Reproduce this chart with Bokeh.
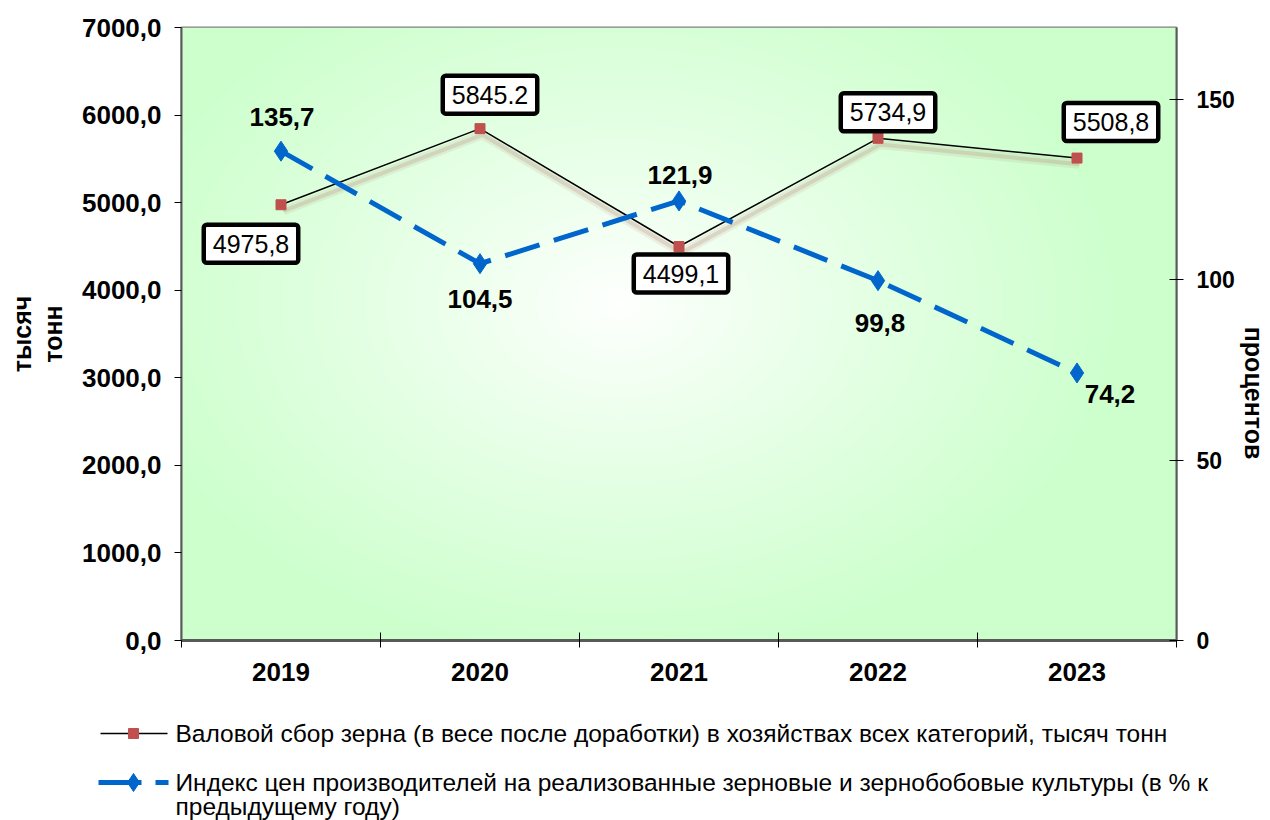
import numpy as np
from bokeh.plotting import figure
from bokeh.models import Range1d, LinearAxis, FixedTicker, Label
from bokeh.layouts import column
from bokeh.embed import file_html
from bokeh.resources import INLINE
from bokeh.core.properties import value

# ---------------- data ----------------
years = ["2019", "2020", "2021", "2022", "2023"]
harvest = [4975.8, 5845.2, 4499.1, 5734.9, 5508.8]
harvest_labels = ["4975,8", "5845.2", "4499,1", "5734,9", "5508,8"]
price_index = [135.7, 104.5, 121.9, 99.8, 74.2]
price_labels = ["135,7", "104,5", "121,9", "99,8", "74,2"]
left_ticks = [0, 1000, 2000, 3000, 4000, 5000, 6000, 7000]
left_tick_labels = ["0,0", "1000,0", "2000,0", "3000,0", "4000,0", "5000,0", "6000,0", "7000,0"]
right_ticks = [0, 50, 100, 150]
right_tick_labels = ["0", "50", "100", "150"]
left_title = "тысяч\nтонн"
right_title = "процентов"
series_names = [
    "Валовой сбор зерна (в весе после доработки) в хозяйствах всех категорий, тысяч тонн",
    "Индекс цен производителей на реализованные зерновые и зернобобовые культуры (в % к",
    "предыдущему году)",
]

# ---------------- styling ----------------
FONT = "Liberation Sans"
RED = "#C0504D"
BLUE = "#0066CC"
harvest_offsets = [(-30, -39), (10, 34), (2, -27), (10, 26), (34, 36)]
price_offsets = [(1, 34), (0, -35), (1, 26), (2, -42), (33, -21)]

xpos = list(range(1, len(years) + 1))

p = figure(width=1270, height=700, x_range=Range1d(0.5, len(years) + 0.5),
           y_range=Range1d(0, 7000), output_backend="svg", toolbar_location=None,
           min_border_left=181, min_border_right=92, min_border_top=27, min_border_bottom=60)
p.extra_y_ranges = {"pct": Range1d(0, 170)}
p.background_fill_color = "white"
p.border_fill_color = "white"
p.outline_line_color = "#808080"
p.outline_line_width = 2
p.xgrid.grid_line_color = None
p.ygrid.grid_line_color = None

# gradient background (radial white centre -> light green edges)
nx, ny = 400, 250
gx, gy = np.meshgrid(np.linspace(0, 1, nx), np.linspace(0, 1, ny))
d = np.sqrt(((gx - 0.44) / 0.52) ** 2 + ((gy - 0.55) / 0.6) ** 2)
t = np.clip(d, 0, 1) ** 0.9
img = np.empty((ny, nx), dtype=np.uint32)
view = img.view(dtype=np.uint8).reshape((ny, nx, 4))
view[:, :, 0] = (255 - 51 * t).astype(np.uint8)
view[:, :, 1] = 255
view[:, :, 2] = (255 - 51 * t).astype(np.uint8)
view[:, :, 3] = 255
p.image_rgba(image=[img], x=0.5, y=0, dw=len(years), dh=7000, level="image")

# red series shadow
shadow_x = [x + 0.012 for x in xpos]
shadow_y = [v - 70 for v in harvest]
p.line(shadow_x, shadow_y, line_color="#b07a68", line_width=9, line_alpha=0.12)
p.line(shadow_x, shadow_y, line_color="#b07a68", line_width=4, line_alpha=0.22)
# red series
p.line(xpos, harvest, line_color="black", line_width=1.5)
p.scatter(xpos, harvest, marker="square", size=10, fill_color=RED, line_color=RED)

# blue series
p.line(xpos, price_index, y_range_name="pct", line_color=BLUE, line_width=5,
       line_dash="36 15")
p.scatter(xpos, price_index, y_range_name="pct", marker="diamond", size=20,
          fill_color=BLUE, line_color=BLUE)

# data labels
for xv, yv, txt, (ox, oy) in zip(xpos, harvest, harvest_labels, harvest_offsets):
    p.add_layout(Label(x=xv, y=yv, text=txt, x_offset=ox, y_offset=oy,
                       text_font=FONT, text_font_size="25px", text_align="center",
                       text_baseline="middle", text_color="black",
                       background_fill_color="white", border_line_color="black",
                       border_line_width=4.5, padding=(9, 10), border_radius=3))
for xv, yv, txt, (ox, oy) in zip(xpos, price_index, price_labels, price_offsets):
    p.add_layout(Label(x=xv, y=yv, y_range_name="pct", text=txt, x_offset=ox, y_offset=oy,
                       text_font=FONT, text_font_size="26px", text_font_style="bold",
                       text_align="center", text_baseline="middle", text_color="black"))

# axes
AX_COLOR = "#595959"
xa = p.xaxis[0]
xa.ticker = FixedTicker(ticks=xpos, minor_ticks=[x - 0.5 for x in xpos] + [xpos[-1] + 0.5])
xa.major_label_overrides = {x: y for x, y in zip(xpos, years)}
xa.major_tick_in = 0
xa.major_tick_out = 0
xa.minor_tick_in = 8
xa.minor_tick_out = 7
xa.minor_tick_line_color = "black"
xa.axis_line_color = AX_COLOR
xa.axis_line_width = 3
xa.major_label_standoff = 15
xa.major_label_text_font = FONT
xa.major_label_text_font_size = "26px"
xa.major_label_text_font_style = "bold"
xa.major_label_text_color = "black"

ya = p.yaxis[0]
ya.ticker = FixedTicker(ticks=left_ticks)
ya.major_label_overrides = {k: v for k, v in zip(left_ticks, left_tick_labels)}
ya.minor_tick_line_color = None
ya.major_tick_in = 0
ya.major_tick_out = 7
ya.major_tick_line_color = "black"
ya.axis_line_color = AX_COLOR
ya.axis_line_width = 2
ya.major_label_standoff = 13
ya.major_label_text_font = FONT
ya.major_label_text_font_size = "26px"
ya.major_label_text_font_style = "bold"
ya.major_label_text_color = "black"
ya.axis_label = left_title
ya.axis_label_text_font = FONT
ya.axis_label_text_font_size = "25px"
ya.axis_label_text_font_style = "bold"
ya.axis_label_text_color = "black"
ya.axis_label_text_line_height = 1.1
ya.axis_label_standoff = 12

ra = LinearAxis(y_range_name="pct", ticker=FixedTicker(ticks=right_ticks))
ra.major_label_overrides = {k: v for k, v in zip(right_ticks, right_tick_labels)}
ra.minor_tick_line_color = None
ra.major_tick_in = 7
ra.major_tick_out = 7
ra.major_tick_line_color = "black"
ra.axis_line_color = AX_COLOR
ra.axis_line_width = 2
ra.major_label_standoff = 13
ra.major_label_text_font = FONT
ra.major_label_text_font_size = "23px"
ra.major_label_text_font_style = "bold"
ra.major_label_text_color = "black"
ra.axis_label = "\u00a0" * 17 + right_title
ra.axis_label_text_font = FONT
ra.axis_label_text_font_size = "25px"
ra.axis_label_text_font_style = "bold"
ra.axis_label_text_color = "black"
ra.axis_label_standoff = 2
p.add_layout(ra, "right")

# ---------------- legend figure (pixel coordinates) ----------------
lg = figure(width=1270, height=120, x_range=Range1d(0, 1270), y_range=Range1d(120, 0),
            output_backend="svg", toolbar_location=None, x_axis_type=None,
            y_axis_type=None, min_border=0)
try:
    lg.frame_align = False
    p.frame_align = False
except Exception:
    pass
lg.outline_line_color = None
lg.xgrid.grid_line_color = None
lg.ygrid.grid_line_color = None
lg.background_fill_color = "white"
lg.border_fill_color = "white"
lg.line([100, 167], [33, 33], line_color="black", line_width=1.5)
lg.scatter([133], [33], marker="square", size=10, fill_color=RED, line_color=RED)
lg.line([98, 168], [82, 82], line_color=BLUE, line_width=5, line_dash="43 14")
lg.scatter([133], [82], marker="diamond", size=18, fill_color=BLUE, line_color=BLUE)
lg.text([175, 175, 175], [33, 82, 106], text=series_names, text_font=value(FONT),
        text_font_size="24.5px", text_baseline="middle", text_align="left", text_color="black")

layout = column(p, lg, spacing=0)
open("out.html", "w").write(file_html(layout, INLINE))
